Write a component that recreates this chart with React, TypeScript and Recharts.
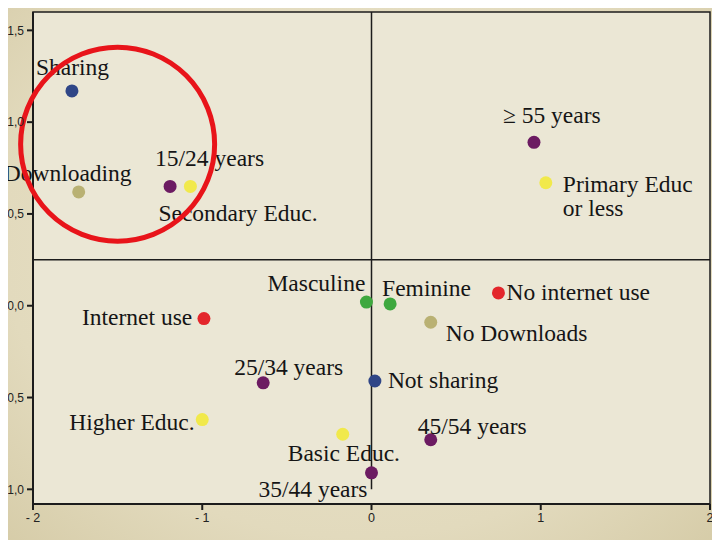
import {
  ScatterChart,
  Scatter,
  XAxis,
  YAxis,
  Cell,
  ReferenceLine,
  ReferenceArea,
  ReferenceDot,
} from "recharts";

// category labels and their coordinates on the two dimensions
const names = [
  "Sharing",
  "Downloading",
  "15/24 years",
  "Secondary Educ.",
  "\u2265 55 years",
  "Primary Educ|or less",
  "Masculine",
  "Feminine",
  "No internet use",
  "No Downloads",
  "Internet use",
  "25/34 years",
  "Not sharing",
  "Higher Educ.",
  "Basic Educ.",
  "45/54 years",
  "35/44 years",
];
const dim1 = [
  -1.77, -1.73, -1.19, -1.07, 0.96, 1.03, -0.03, 0.11, 0.75, 0.35, -0.99,
  -0.64, 0.02, -1.0, -0.17, 0.35, 0.0,
];
const dim2 = [
  1.17, 0.62, 0.65, 0.65, 0.89, 0.67, 0.02, 0.01, 0.07, -0.09, -0.07, -0.42,
  -0.41, -0.62, -0.7, -0.73, -0.91,
];
const groups = [
  "share", "download", "age", "educ", "age", "educ", "sex", "sex", "internet",
  "download", "internet", "age", "share", "educ", "educ", "age", "age",
];

const xTicks = [-2, -1, 0, 1, 2];
const yTicks = [-1, -0.5, 0, 0.5, 1, 1.5];

const groupColors: Record<string, string> = {
  share: "#2f4687",
  download: "#b9b173",
  age: "#6c1b62",
  educ: "#f1e94b",
  sex: "#3ea83e",
  internet: "#e3262b",
};

// where each label sits relative to its dot (text start x, text middle y)
const labelOffsets: [number, number][] = [
  [-36, -24],
  [-75, -19],
  [-15, -28],
  [-32, 27],
  [-31, -27],
  [17, 1],
  [-99, -19],
  [-8, -16],
  [8, -1],
  [15, 11],
  [-122, -2],
  [-29, -16],
  [13, -1],
  [-133, 2],
  [-55, 19],
  [-13, -14],
  [-113, 16],
];

const data = names.map((name, i) => ({
  name,
  x: dim1[i],
  y: dim2[i],
  group: groups[i],
  idx: i,
}));

const fmtX = (v: number) => (v < 0 ? "- " + Math.abs(v) : String(v));
const fmtY = (v: number) => v.toFixed(1).replace(".", ",");

const serif = "'Liberation Serif', 'Times New Roman', serif";
const sans = "'Liberation Sans', Arial, sans-serif";

function PointWithLabel(props: any) {
  const { cx, cy, fill, payload } = props;
  if (cx == null || cy == null) return null;
  const [dx, dy] = labelOffsets[payload.idx];
  const lines = String(payload.name).split("|");
  return (
    <g>
      <circle cx={cx} cy={cy} r={6.5} fill={fill} />
      {lines.map((line: string, k: number) => (
        <text
          key={k}
          x={cx + dx}
          y={cy + dy + k * 24}
          dominantBaseline="central"
          fontFamily={serif}
          fontSize={23.5}
          fill="#151515"
        >
          {line}
        </text>
      ))}
    </g>
  );
}

export default function App() {
  return (
    <div
      style={{
        width: 720,
        height: 540,
        margin: "-8px 0 0 -8px",
        overflow: "hidden",
        background:
          "radial-gradient(ellipse at 50% 45%, #ebe5cd 0%, #e2dabd 70%, #d6cca8 100%)",
      }}
    >
      <ScatterChart
        width={720}
        height={540}
        margin={{ top: 12, right: 10, bottom: 0, left: 0 }}
      >
        <ReferenceArea
          x1={-2}
          x2={2}
          y1={-1.08}
          y2={1.6}
          fill="#ebe7d5"
          fillOpacity={1}
          stroke="#1c1c1c"
          strokeWidth={1.5}
        />
        <XAxis
          type="number"
          dataKey="x"
          domain={[-2, 2]}
          ticks={xTicks}
          tickFormatter={fmtX}
          height={36}
          tickSize={6}
          tickMargin={3}
          stroke="#1c1c1c"
          strokeWidth={2}
          tick={{ fill: "#222", fontSize: 12.5, fontFamily: sans }}
        />
        <YAxis
          type="number"
          dataKey="y"
          domain={[-1.08, 1.6]}
          ticks={yTicks}
          tickFormatter={fmtY}
          width={33}
          tickSize={6}
          tickMargin={3}
          stroke="#1c1c1c"
          strokeWidth={2}
          tick={{ fill: "#222", fontSize: 12, fontFamily: sans }}
        />
        <ReferenceLine y={0.25} stroke="#1c1c1c" strokeWidth={1.5} />
        <ReferenceLine
          segment={[
            { x: 0, y: 1.6 },
            { x: 0, y: -1.0 },
          ]}
          stroke="#1c1c1c"
          strokeWidth={1.5}
        />
        <Scatter data={data} shape={PointWithLabel} isAnimationActive={false}>
          {data.map((d) => (
            <Cell key={d.name} fill={groupColors[d.group]} />
          ))}
        </Scatter>
        <ReferenceDot
          x={-1.5}
          y={0.88}
          r={97}
          fill="none"
          stroke="#e8141a"
          strokeWidth={5}
          ifOverflow="visible"
        />
      </ScatterChart>
    </div>
  );
}
